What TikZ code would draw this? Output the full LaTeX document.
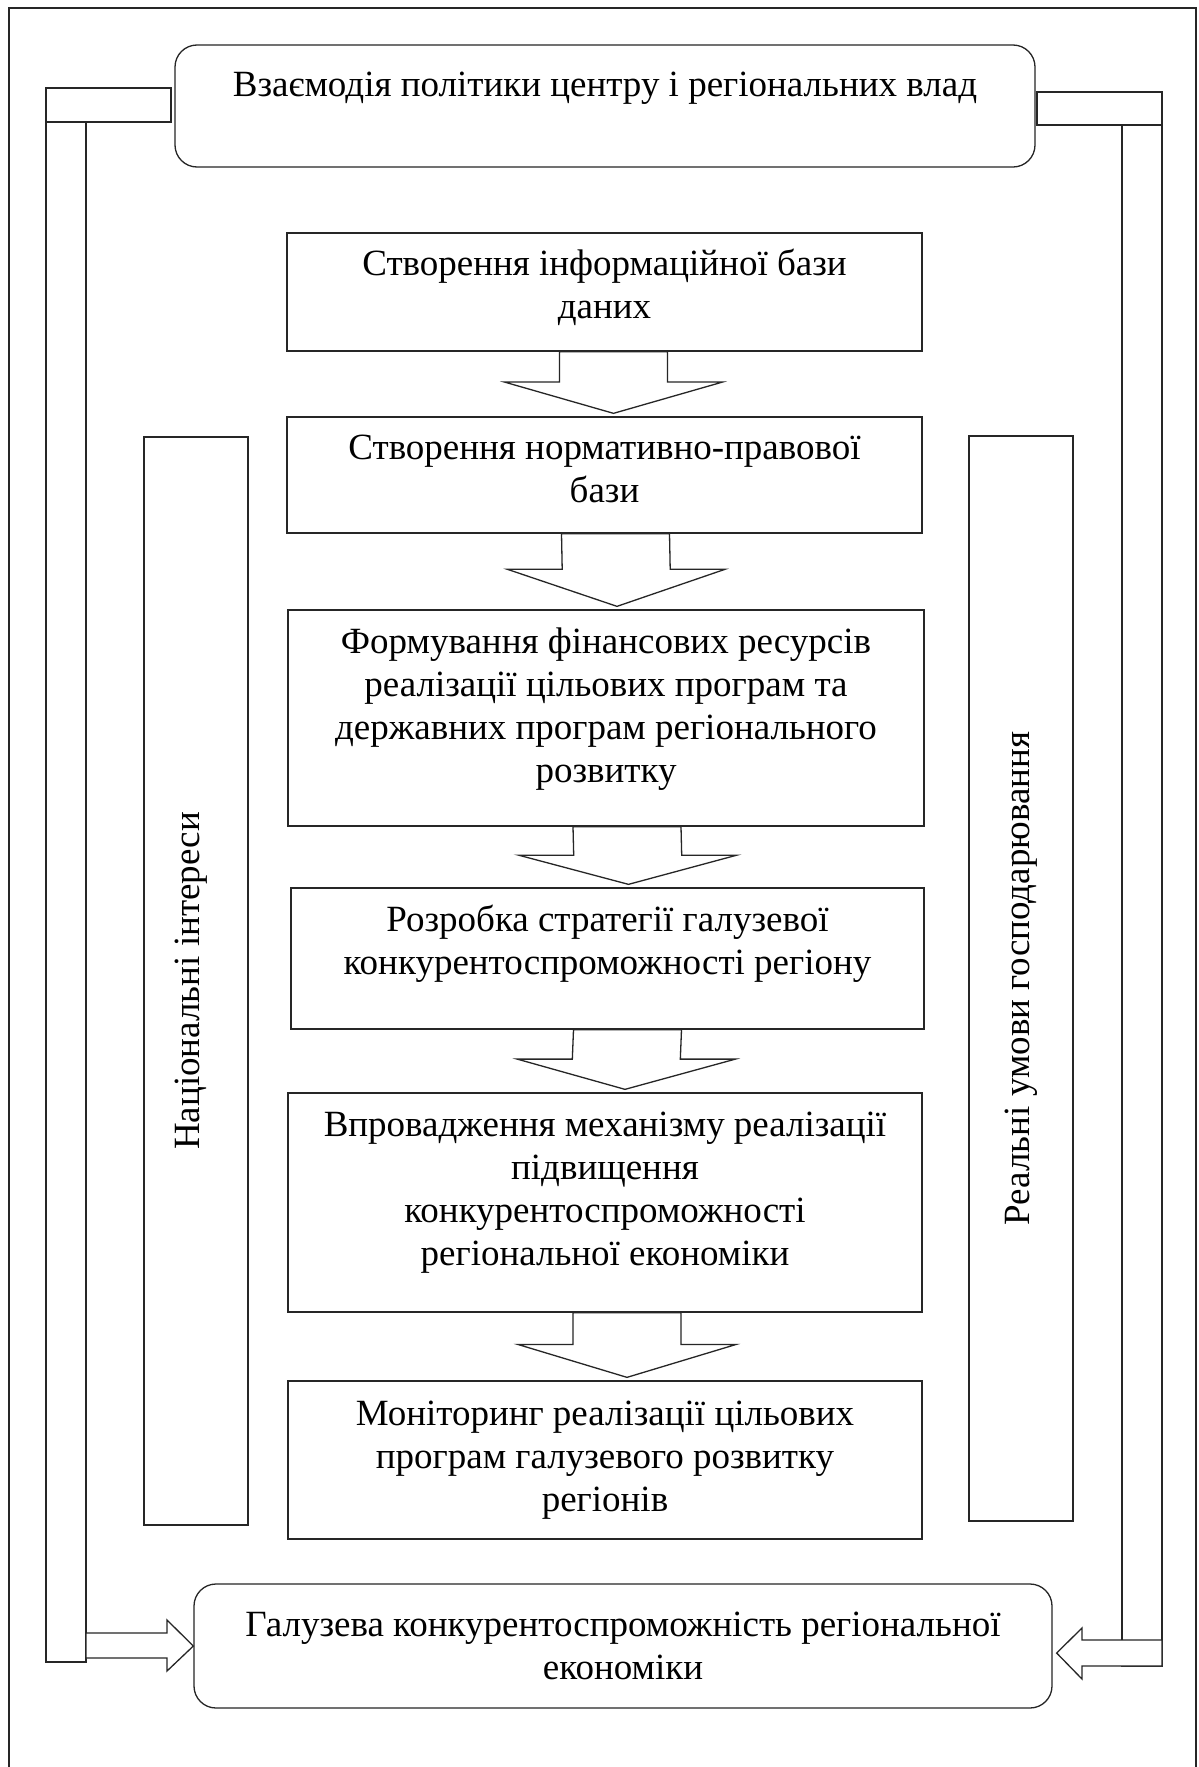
\documentclass[tikz,border=0pt]{standalone}
\usepackage{fontspec}
\setmainfont{Liberation Serif}
\usetikzlibrary{calc}
\newcommand\blkarrow[3]{%
  \draw[blk] ($(#1.south)+(#3-54,0)$) -- ($(#1.south)+(#3+54,0)$)
    -- ($(#1.south)!0.47!(#2.north)+(#3+54,0)$) -- ($(#1.south)!0.47!(#2.north)+(#3+109,0)$)
    -- ($(#2.north)+(#3,-3)$)
    -- ($(#1.south)!0.47!(#2.north)+(#3-109,0)$) -- ($(#1.south)!0.47!(#2.north)+(#3-54,0)$)
    -- cycle;}
\begin{document}
\begin{tikzpicture}[x=1pt,y=-1pt,
  ln/.style={line width=1.3pt, draw=black!85},
  box/.style={ln, rectangle, inner sep=0pt},
  rbox/.style={box, rounded corners=22pt},
  blk/.style={ln, fill=white, line join=miter},
  txt/.style={inner sep=0pt, align=center, font=\fontsize{37}{43}\selectfont},
  toptext/.style={txt, anchor=north}]
\useasboundingbox (0,0) rectangle (1199,1767);
\fill[white] (0,0) rectangle (1199,1767);
\draw[ln] (9,1800) -- (9,8) -- (1196,8) -- (1196,1800);

% top and bottom rounded boxes
\node[rbox, minimum width=860pt, minimum height=122pt] (top) at (605,106) {};
\node[txt, anchor=base] (toptxt) at (605,96) {Взаємодія політики центру і регіональних влад};
\node[rbox, minimum width=858pt, minimum height=124pt] (bot) at (623,1646) {};
\node[txt] (bottxt) at (bot.center) {Галузева конкурентоспроможність регіональної\\економіки};

% central chain
\node[box, minimum width=635pt, minimum height=118pt] (b1) at (604.5,292) {};
\node[toptext] (b1t) at ([yshift=-13pt]b1.north) {\strut Створення інформаційної бази\\даних};
\node[box, minimum width=635pt, minimum height=116pt] (b2) at (604.5,475) {};
\node[toptext] (b2t) at ([yshift=-13pt]b2.north) {\strut Створення нормативно-правової\\бази};
\node[box, minimum width=636pt, minimum height=216pt] (b3) at (606,718) {};
\node[toptext] (b3t) at ([yshift=-14pt]b3.north)
  {\strut Формування фінансових ресурсів\\реалізації цільових програм та\\державних програм регіонального\\розвитку};
\node[box, minimum width=633pt, minimum height=141pt] (b4) at (607.5,958.5) {};
\node[toptext] (b4t) at ([yshift=-14pt]b4.north)
  {\strut Розробка стратегії галузевої\\конкурентоспроможності регіону};
\node[box, minimum width=634pt, minimum height=219pt] (b5) at (605,1202.5) {};
\node[toptext] (b5t) at ([yshift=-14pt]b5.north)
  {\strut Впровадження механізму реалізації\\підвищення\\конкурентоспроможності\\регіональної економіки};
\node[box, minimum width=634pt, minimum height=158pt] (b6) at (605,1460) {};
\node[toptext] (b6t) at ([yshift=-15pt]b6.north)
  {\strut Моніторинг реалізації цільових\\програм галузевого розвитку\\регіонів};

% side boxes
\node[box, minimum width=104pt, minimum height=1088pt] (lt) at (196,981) {};
\node[txt, rotate=90] (ltt) at ([xshift=-5pt]lt.center) {Національні інтереси};
\node[box, minimum width=104pt, minimum height=1085pt] (rt) at (1021,978.5) {};
\node[txt, rotate=90] (rtt) at (rt.center) {Реальні умови господарювання};

% block arrows
\blkarrow{b1}{b2}{9}
\blkarrow{b2}{b3}{11}
\blkarrow{b3}{b4}{21}
\blkarrow{b4}{b5}{20}
\blkarrow{b5}{b6}{22}

% left feedback
\draw[blk] (46,88) rectangle (171,122);
\draw[blk] (46,122) rectangle (86,1662);
\coordinate (ltip) at (bot.west);
\draw[blk] (86,1633) -- (167,1633) -- (167,1620) -- (ltip) -- (167,1671) -- (167,1658) -- (86,1658) -- cycle;

% right feedback
\draw[blk] (1037,92) rectangle (1162,125);
\draw[blk] (1122,125) rectangle (1162,1666);
\coordinate (rtip) at ($(bot.east)+(4,7)$);
\draw[blk] (1162,1640) -- (1082,1640) -- (1082,1628) -- (rtip) -- (1082,1679) -- (1082,1666) -- (1162,1666) -- cycle;
\end{tikzpicture}
\end{document}
